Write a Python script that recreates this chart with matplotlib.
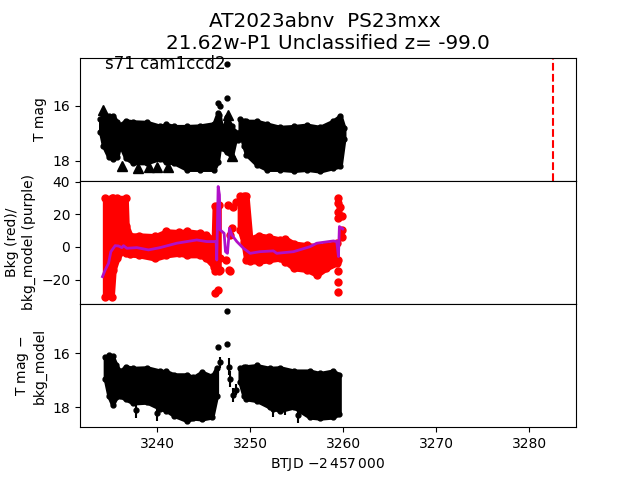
#!/usr/bin/env python3
"""Three panel light curve: T mag, background, background subtracted mag."""
import matplotlib
matplotlib.use("Agg")
import matplotlib.pyplot as plt

# panel 1: T mag envelope (brighter / fainter edge of the dense cloud)
mag_t = [3233.9, 3234.2, 3234.8, 3235.3, 3235.7, 3236.0, 3236.6, 3237.4, 3238.9, 3240.3,
         3241.0, 3241.8, 3243.2, 3244.6, 3246.1, 3246.5, 3246.7, 3247.0, 3247.5, 3248.0,
         3248.4, 3248.7]
mag_hi = [16.48, 16.36, 16.36, 16.38, 16.6, 16.7, 16.54, 16.58, 16.6, 16.74,
          16.68, 16.75, 16.75, 16.73, 16.65, 16.28, 16.35, 16.95, 16.42, 16.75,
          16.95, 17.15]
mag_lo = [16.95, 17.45, 17.88, 17.92, 17.85, 17.42, 17.9, 18.08, 18.08, 17.92,
          18.05, 18.08, 18.32, 18.32, 18.32, 18.05, 17.55, 17.55, 17.7, 17.85,
          17.25, 17.25]
mag_t2 = [3248.9, 3249.3, 3249.6, 3250.7, 3251.8, 3253.2, 3254.7, 3256.1, 3257.5, 3258.9,
          3259.7, 3260.1]
mag_hi2 = [16.5, 16.56, 16.56, 16.56, 16.66, 16.78, 16.75, 16.7, 16.78, 16.56, 16.36, 16.8]
mag_lo2 = [16.95, 17.45, 17.78, 18.14, 18.32, 18.32, 18.36, 18.32, 18.38, 18.26, 18.2, 17.2]
tri_t = [3234.16, 3236.2, 3237.9, 3239.1, 3240.0, 3241.2, 3247.6, 3248.1]
tri_mag = [16.14, 18.18, 18.26, 18.22, 18.22, 18.22, 16.32, 17.84]
spot_t = [3247.5, 3247.55, 3246.5, 3246.8]
spot_mag = [14.47, 15.72, 15.9, 16.02]
event_t = 3282.6

# panel 2: background envelope and the model line
bkg_t = [3234.4, 3235.1, 3235.3, 3235.7, 3236.6, 3236.7, 3237.1, 3238.0, 3239.8, 3241.0,
         3242.4, 3243.2, 3244.6, 3245.3, 3246.1, 3246.2, 3246.6]
bkg_hi = [30, 30, 30, 30, 30, 13, 7, 7, 6.5, 9.5, 9, 9.5, 8.5, 7.5, 4, 25, 26]
bkg_lo = [-30.5, -30.5, -14, -7, 1, -4, -4.5, -5, -7, -5, -4, -5, -5, -7, -12, -15, -15]
bkg_t2 = [3248.9, 3249.3, 3249.6, 3250.0, 3250.9, 3252.0, 3253.2, 3253.8, 3254.7, 3256.1,
          3257.2, 3258.2, 3259.3]
bkg_hi2 = [31, 31, 31, 5, 7, 6, 4.5, 5, 2, 1, 0.5, 1, 2.3]
bkg_lo2 = [10.5, 3, -8, -8.5, -9, -8, -7, -9, -13, -14, -17, -13, -10]
bkg_spot_t = [3246.2, 3246.5, 3246.8, 3246.8, 3247.6, 3248.2, 3248.5, 3247.7, 3247.8, 3247.4,
              3248.0, 3247.8, 3259.4, 3259.4, 3259.4, 3259.4, 3259.7, 3259.9, 3259.9, 3259.9,
              3259.4, 3259.4, 3259.4, 3259.5]
bkg_spot = [-28.5, -26.5, -7, -14, 25.8, 24.4, 27.5, -14, -15, -8,
            11.9, 7.4, 30, 27, 21.7, 17.6, 24.8, 18.7, 10.5, 6.4,
            -21.3, -27.4, -15, -8]
model_t = [3234.12, 3234.41, 3234.77, 3235.02, 3235.48, 3235.84, 3236.2, 3236.38, 3236.74, 3237.81,
           3239.07, 3240.32, 3242.11, 3244.26, 3245.34, 3246.34, 3246.41, 3246.56, 3246.7, 3246.77,
           3247.2, 3247.35, 3247.56, 3247.78, 3248.03, 3248.57, 3249.28, 3250.0, 3251.07, 3252.5,
           3252.86, 3254.66, 3256.45, 3257.17, 3258.96, 3259.32, 3259.5, 3259.6, 3259.96]
model = [-18.2, -14.1, -10.0, -2.9, 0.8, 0.6, -0.4, 0.8, -0.8, -0.4,
         -1.8, -0.4, 2.3, 4.3, 3.3, 3.3, -8.0, 37.1, 32, 10.5,
         8.4, -2.9, -3.9, 11.5, 7.4, 3.3, -0.8, -3.9, -2.9, -2.4,
         -3.9, -2.9, 0.2, 2.3, 3.7, 3.3, -5.9, 12.5, 11.1]

# panel 3: background subtracted mag
sub_t = [3234.4, 3234.8, 3235.2, 3235.6, 3236.0, 3236.6, 3237.4, 3238.9, 3240.3, 3241.0,
         3241.8, 3243.2, 3243.9, 3244.8, 3245.9, 3246.4]
sub_hi = [16.15, 16.08, 16.12, 16.45, 16.68, 16.5, 16.56, 16.54, 16.66, 16.68,
          16.8, 16.8, 16.9, 16.7, 16.86, 16.55]
sub_lo = [16.95, 17.6, 17.92, 17.63, 17.6, 17.7, 17.85, 17.82, 18.05, 18.13,
          18.31, 18.5, 18.41, 18.44, 18.37, 17.57]
sub_t2 = [3248.9, 3249.3, 3249.6, 3250.7, 3252.1, 3253.2, 3254.7, 3256.4, 3257.5, 3258.9, 3259.6]
sub_hi2 = [16.56, 16.5, 16.5, 16.46, 16.56, 16.54, 16.66, 16.66, 16.75, 16.66, 16.8]
sub_lo2 = [17.08, 17.57, 17.7, 17.76, 18.0, 18.13, 18.0, 18.37, 18.41, 18.37, 18.25]
sub_pt_t = [3247.56, 3247.56, 3246.5, 3246.77, 3247.7, 3248.2, 3248.5, 3247.8, 3237.7, 3240.0,
            3252.5, 3253.8, 3255.1]
sub_pt = [14.46, 15.65, 15.79, 16.35, 16.5, 17.55, 17.35, 16.95, 18.1, 18.2,
          18.05, 18.0, 18.3]
sub_pt_err = [0.03, 0.03, 0.03, 0.2, 0.3, 0.25, 0.2, 0.3, 0.3, 0.3,
              0.3, 0.3, 0.3]


def band(ax, t, hi, lo, color, ms):
    # the cloud is too dense to see single points, so outline it with round dots
    ax.fill_between(t, lo, hi, color=color, lw=ms * 0.8, joinstyle="round")
    ax.plot(t, hi, "o", color=color, ms=ms)
    ax.plot(t, lo, "o", color=color, ms=ms)


fig, axes = plt.subplots(3, 1, sharex=True, figsize=(6.4, 4.8))
fig.subplots_adjust(hspace=0)
ax1, ax2, ax3 = axes

band(ax1, mag_t, mag_hi, mag_lo, "k", 3.5)
band(ax1, mag_t2, mag_hi2, mag_lo2, "k", 3.5)
ax1.plot(tri_t, tri_mag, "^", color="k", ms=7)
ax1.plot(spot_t, spot_mag, "o", color="k", ms=3.5)
ax1.axvline(event_t, color="r", ls="--", lw=1.5)
ax1.set_xlim(3231.7, 3285.05)
ax1.set_ylim(18.73, 14.25)
ax1.set_yticks([16, 18])
ax1.set_ylabel("T mag")
ax1.text(3234.4, 14.5, "s71 cam1ccd2", fontsize=12, va="center")
ax1.set_title("AT2023abnv  PS23mxx \n21.62w-P1 Unclassified z= -99.0", fontsize=14.4)

band(ax2, bkg_t, bkg_hi, bkg_lo, "r", 5)
band(ax2, bkg_t2, bkg_hi2, bkg_lo2, "r", 5)
ax2.plot(bkg_spot_t, bkg_spot, "o", color="r", ms=5)
ax2.plot(model_t, model, color="#b010c8", lw=2)
ax2.set_ylim(-35, 40.6)
ax2.set_yticks([-20, 0, 20, 40])
ax2.set_ylabel("Bkg (red)/\nbkg_model (purple)")

band(ax3, sub_t, sub_hi, sub_lo, "k", 3.5)
band(ax3, sub_t2, sub_hi2, sub_lo2, "k", 3.5)
ax3.errorbar(sub_pt_t, sub_pt, yerr=sub_pt_err, fmt="o", color="k", ms=3.5)
ax3.set_ylim(18.74, 14.19)
ax3.set_yticks([16, 18])
ax3.set_xticks([3240, 3250, 3260, 3270, 3280])
ax3.set_ylabel("T mag $-$\nbkg_model")
ax3.set_xlabel(r"BTJD $- 2\,457\,000$")

ax1.tick_params(bottom=False)
ax2.tick_params(bottom=False)

fig.savefig("out.png", dpi=100)
